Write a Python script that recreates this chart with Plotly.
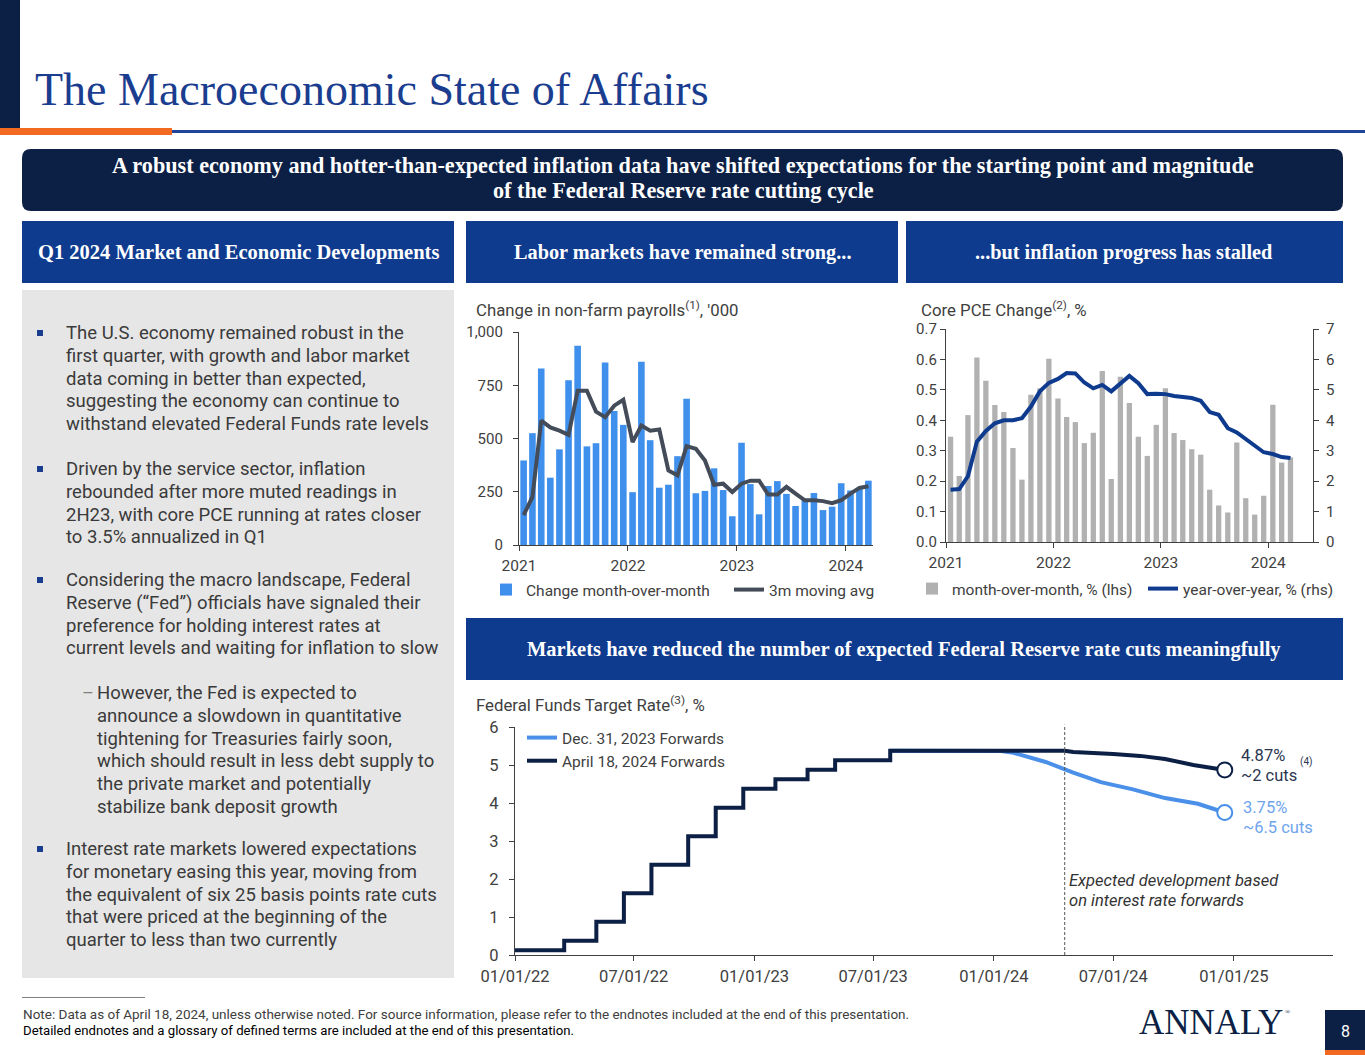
import pandas as pd
import plotly.graph_objects as go

W, H = 1365, 1055

# ---------------- DATA ----------------
months = pd.date_range("2021-01-01", periods=39, freq="MS")

payroll_mom = [397, 525, 829, 316, 449, 774, 936, 463, 478, 857, 629, 564,
               248, 860, 492, 269, 283, 417, 687, 243, 254, 360, 258, 135,
               480, 286, 144, 277, 300, 240, 183, 210, 244, 164, 180, 290,
               256, 262, 302]
payroll_3m = [140, 226, 584, 552, 537, 517, 724, 724, 626, 600, 654, 682,
              483, 561, 537, 542, 350, 327, 464, 452, 397, 283, 288, 249,
              288, 302, 302, 237, 237, 273, 241, 210, 210, 206, 196, 210,
              241, 268, 276]

pce_mom = [0.346, 0.217, 0.417, 0.606, 0.530, 0.450, 0.427, 0.309, 0.205, 0.484, 0.505, 0.602,
           0.472, 0.411, 0.394, 0.325, 0.359, 0.562, 0.207, 0.543, 0.457, 0.346, 0.283, 0.385,
           0.505, 0.358, 0.335, 0.305, 0.287, 0.172, 0.120, 0.097, 0.327, 0.144, 0.090, 0.152,
           0.451, 0.261, 0.278]
pce_yoy = [1.72, 1.74, 2.16, 3.30, 3.65, 3.90, 4.00, 4.00, 4.07, 4.45, 4.95, 5.23,
           5.36, 5.55, 5.54, 5.24, 5.05, 5.16, 4.95, 5.22, 5.46, 5.22, 4.86, 4.87,
           4.86, 4.80, 4.76, 4.73, 4.64, 4.27, 4.18, 3.74, 3.60, 3.39, 3.19, 2.95,
           2.89, 2.79, 2.76]

ff_hist_dates = ["2022-01-01", "2022-03-17", "2022-05-05", "2022-06-16", "2022-07-28",
                 "2022-09-22", "2022-11-03", "2022-12-15", "2023-02-02", "2023-03-23",
                 "2023-05-04", "2023-07-27", "2024-04-18"]
ff_hist_rates = [0.125, 0.375, 0.875, 1.625, 2.375, 3.125, 3.875, 4.375, 4.625, 4.875,
                 5.125, 5.375, 5.375]

fwd_dec_dates = ["2023-07-27", "2024-01-12", "2024-01-31", "2024-03-20", "2024-05-01",
                 "2024-06-12", "2024-07-31", "2024-09-18", "2024-11-07", "2024-12-18"]
fwd_dec_rates = [5.375, 5.37, 5.32, 5.08, 4.80, 4.55, 4.36, 4.13, 3.98, 3.75]

fwd_apr_dates = ["2024-04-18", "2024-05-01", "2024-07-01", "2024-08-11", "2024-09-18",
                 "2024-10-31", "2024-12-18"]
fwd_apr_rates = [5.375, 5.34, 5.29, 5.24, 5.16, 5.00, 4.87]

ff_ticks = ["2022-01-01", "2022-07-01", "2023-01-01", "2023-07-01", "2024-01-01",
            "2024-07-01", "2025-01-01"]

# ---------------- COLORS / FONTS ----------------
NAVY = "#0c1f45"
BLUE_HDR = "#0f3b8f"
TITLE_BLUE = "#1b3d8f"
ORANGE = "#f26a21"
PAY_BLUE = "#3f8fec"
PAY_LINE = "#434c58"
PCE_GRAY = "#b1b1b1"
PCE_LINE = "#0f3b8f"
FF_LIGHT = "#4a90e8"
FF_DARK = "#0c1f45"
TXT = "#404040"
SANS = "Roboto"
SERIF = "Liberation Serif"
DAY_MS = 86400000


def X(p):
    return p / W


def Y(p):
    return 1 - p / H


fig = go.Figure()

# ---------------- TRACES ----------------
fig.add_trace(go.Bar(x=months, y=payroll_mom, xperiod="M1", xperiodalignment="middle",
                     marker=dict(color=PAY_BLUE, line_width=0), name="Change month-over-month",
                     xaxis="x", yaxis="y", legend="legend"))
fig.add_trace(go.Scatter(x=months, y=payroll_3m, xperiod="M1", xperiodalignment="middle",
                         mode="lines", line=dict(color=PAY_LINE, width=4), name="3m moving avg",
                         xaxis="x", yaxis="y", legend="legend"))

fig.add_trace(go.Bar(x=months, y=pce_mom, xperiod="M1", xperiodalignment="middle",
                     width=18 * DAY_MS,
                     marker=dict(color=PCE_GRAY, line_width=0), name="month-over-month, % (lhs)",
                     xaxis="x2", yaxis="y2", legend="legend2"))
fig.add_trace(go.Scatter(x=months, y=pce_yoy, xperiod="M1", xperiodalignment="middle",
                         mode="lines", line=dict(color=PCE_LINE, width=4), name="year-over-year, % (rhs)",
                         xaxis="x2", yaxis="y3", legend="legend2"))

fig.add_trace(go.Scatter(x=fwd_dec_dates, y=fwd_dec_rates, mode="lines",
                         line=dict(color=FF_LIGHT, width=4), name="Dec. 31, 2023 Forwards",
                         xaxis="x3", yaxis="y4", legend="legend3"))
fig.add_trace(go.Scatter(x=ff_hist_dates, y=ff_hist_rates, mode="lines", line_shape="hv",
                         line=dict(color=FF_DARK, width=4), showlegend=False,
                         xaxis="x3", yaxis="y4"))
fig.add_trace(go.Scatter(x=fwd_apr_dates, y=fwd_apr_rates, mode="lines",
                         line=dict(color=FF_DARK, width=4), name="April 18, 2024 Forwards",
                         xaxis="x3", yaxis="y4", legend="legend3"))
fig.add_trace(go.Scatter(x=[fwd_dec_dates[-1]], y=[fwd_dec_rates[-1]], mode="markers",
                         marker=dict(symbol="circle", size=15, color="white",
                                     line=dict(color=FF_LIGHT, width=2)),
                         showlegend=False, xaxis="x3", yaxis="y4"))
fig.add_trace(go.Scatter(x=[fwd_apr_dates[-1]], y=[fwd_apr_rates[-1]], mode="markers",
                         marker=dict(symbol="circle", size=15, color="white",
                                     line=dict(color=FF_DARK, width=2)),
                         showlegend=False, xaxis="x3", yaxis="y4"))

# ---------------- AXES ----------------
def ax(size, standoff):
    return dict(showline=True, linecolor="#404040", linewidth=1.2, ticks="outside",
                ticklen=5, tickcolor="#404040", showgrid=False, zeroline=False,
                automargin=False, ticklabelstandoff=standoff,
                tickfont=dict(family=SANS, size=size, color=TXT))


years = ["2021-01-01", "2022-01-01", "2023-01-01", "2024-01-01"]
fig.update_layout(
    xaxis=dict(domain=[X(519), X(873)], anchor="y", range=["2021-01-01", "2024-04-01"],
               tickvals=years, tickformat="%Y", **ax(15.5, 1)),
    yaxis=dict(domain=[Y(545), Y(332)], anchor="x", range=[0, 1000],
               tickvals=[0, 250, 500, 750, 1000], tickformat=",", **ax(15, 7)),
    xaxis2=dict(domain=[X(946), X(1313)], anchor="y2", range=["2021-01-01", "2024-06-01"],
                tickvals=years, tickformat="%Y", **ax(15.5, 1)),
    yaxis2=dict(domain=[Y(542), Y(329)], anchor="x2", range=[0, 0.7], dtick=0.1,
                tickformat=".1f", **ax(15, 0)),
    yaxis3=dict(overlaying="y2", anchor="x2", side="right", range=[0, 7], dtick=1, **ax(15, 4)),
    xaxis3=dict(domain=[X(515), X(1333)], anchor="y4", range=["2022-01-01", "2025-06-01"],
                tickvals=ff_ticks, tickformat="%m/%d/%y", **ax(16.5, 1)),
    yaxis4=dict(domain=[Y(955), Y(727)], anchor="x3", range=[0, 6], dtick=1, **ax(16.5, 7)),
)

legfont = dict(family=SANS, size=15.5, color=TXT)
fig.update_layout(
    legend=dict(orientation="h", x=X(486), y=Y(590), xanchor="left", yanchor="middle",
                font=legfont, itemwidth=30, entrywidth=198, bgcolor="rgba(0,0,0,0)"),
    legend2=dict(orientation="h", x=X(912), y=Y(589), xanchor="left", yanchor="middle",
                 font=legfont, itemwidth=30, entrywidth=186, bgcolor="rgba(0,0,0,0)"),
    legend3=dict(orientation="v", x=X(522), y=Y(721), xanchor="left", yanchor="top",
                 font=legfont, itemwidth=30, bgcolor="rgba(0,0,0,0)", tracegroupgap=0),
)

# ---------------- SHAPES ----------------
shapes = []


def rect(x0, y0, x1, y1, color, layer="below"):
    shapes.append(dict(type="rect", xref="paper", yref="paper", x0=X(x0), x1=X(x1),
                       y0=Y(y1), y1=Y(y0), fillcolor=color, line_width=0, layer=layer))


def rrect(x0, y0, x1, y1, r, color):
    pts = lambda a, b: f"{X(a)},{Y(b)}"
    path = (f"M {pts(x0 + r, y0)} L {pts(x1 - r, y0)} Q {pts(x1, y0)} {pts(x1, y0 + r)} "
            f"L {pts(x1, y1 - r)} Q {pts(x1, y1)} {pts(x1 - r, y1)} "
            f"L {pts(x0 + r, y1)} Q {pts(x0, y1)} {pts(x0, y1 - r)} "
            f"L {pts(x0, y0 + r)} Q {pts(x0, y0)} {pts(x0 + r, y0)} Z")
    shapes.append(dict(type="path", xref="paper", yref="paper", path=path,
                       fillcolor=color, line_width=0, layer="below"))


rect(0, 0, 20, 129, NAVY)
rect(0, 128, 172, 135, ORANGE)
rect(172, 130, 1365, 133, "#1f449a")
rrect(22, 149, 1343, 211, 9, NAVY)
rect(22, 221, 454, 283, BLUE_HDR)
rect(466, 221, 898, 283, BLUE_HDR)
rect(906, 221, 1343, 283, BLUE_HDR)
rect(22, 290, 454, 978, "#e6e6e6")
rect(466, 618, 1343, 680, BLUE_HDR)
rect(22, 997, 145, 998, "#7f7f7f")
rect(1325, 1010, 1365, 1050, NAVY)
rect(1325, 1050, 1365, 1055, ORANGE)

# bullet squares
for by in [333, 469, 580, 849]:
    rect(37, by - 3, 43, by + 3, TITLE_BLUE, layer="above")

# dashed separator in FF chart
shapes.append(dict(type="line", xref="x3", yref="y4 domain", x0="2024-04-18", x1="2024-04-18",
                   y0=0, y1=1.01, line=dict(color="#555555", width=1, dash="3px,2px")))

fig.update_layout(shapes=shapes)

# ---------------- ANNOTATIONS ----------------
ann = []


def text(x, y, s, size, color=TXT, family=SANS, xanchor="left", yanchor="middle"):
    ann.append(dict(x=X(x), y=Y(y), xref="paper", yref="paper", text=s, showarrow=False,
                    xanchor=xanchor, yanchor=yanchor,
                    align=xanchor if xanchor != "center" else "center",
                    font=dict(size=size, color=color, family=family)))


text(33, 90, "The Macroeconomic State of Affairs", 46, TITLE_BLUE, SERIF)
text(683, 166, "<b>A robust economy and hotter-than-expected inflation data have shifted expectations for the starting point and magnitude</b>",
     22.2, "white", SERIF, xanchor="center")
text(683, 191, "<b>of the Federal Reserve rate cutting cycle</b>", 22.2, "white", SERIF, xanchor="center")
text(238, 252, "<b>Q1 2024 Market and Economic Developments</b>", 20.5, "white", SERIF, xanchor="center")
text(682, 252, "<b>Labor markets have remained strong...</b>", 20.3, "white", SERIF, xanchor="center")
text(1124, 252, "<b>...but inflation progress has stalled</b>", 20.3, "white", SERIF, xanchor="center")
text(904, 649, "<b>Markets have reduced the number of expected Federal Reserve rate cuts meaningfully</b>",
     20.5, "white", SERIF, xanchor="center")

LS = 22.8
blocks = [
    (64, 333, ["The U.S. economy remained robust in the", "first quarter, with growth and labor market",
               "data coming in better than expected,", "suggesting the economy can continue to",
               "withstand elevated Federal Funds rate levels"]),
    (64, 469, ["Driven by the service sector, inflation", "rebounded after more muted readings in",
               "2H23, with core PCE running at rates closer", "to 3.5% annualized in Q1"]),
    (64, 580, ["Considering the macro landscape, Federal", "Reserve (“Fed”) officials have signaled their",
               "preference for holding interest rates at", "current levels and waiting for inflation to slow"]),
    (95, 693, ["However, the Fed is expected to", "announce a slowdown in quantitative",
               "tightening for Treasuries fairly soon,", "which should result in less debt supply to",
               "the private market and potentially", "stabilize bank deposit growth"]),
    (64, 849, ["Interest rate markets lowered expectations", "for monetary easing this year, moving from",
               "the equivalent of six 25 basis points rate cuts", "that were priced at the beginning of the",
               "quarter to less than two currently"]),
]
for bx, by, lines in blocks:
    for i, ln in enumerate(lines):
        text(bx, by + i * LS, ln, 18.5, "#3a3a3a")
text(80, 692, "–", 18, "#7f7f7f")

text(474, 309, "Change in non-farm payrolls<sup>(1)</sup>, '000", 16.8)
text(919, 309, "Core PCE Change<sup>(2)</sup>, %", 16.8)
text(474, 704, "Federal Funds Target Rate<sup>(3)</sup>, %", 16.8)

text(1239, 755, "4.87%", 16.5, "#2b3650")
text(1239, 775, "~2 cuts", 16.5, "#2b3650")
text(1298, 762, "(4)", 10, "#2b3650")
text(1241, 807, "3.75%", 16.5, "#6ea4ee")
text(1241, 827, "~6.5 cuts", 16.5, "#6ea4ee")
text(1067, 880, "<i>Expected development based</i>", 16.5, "#333333")
text(1067, 900, "<i>on interest rate forwards</i>", 16.5, "#333333")

text(21, 1014, "Note: Data as of April 18, 2024, unless otherwise noted. For source information, please refer to the endnotes included at the end of this presentation.",
     13.5, "#404040")
text(21, 1030, "Detailed endnotes and a glossary of defined terms are included at the end of this presentation.",
     13.2, "#000000")
text(1137, 1022, "ANNALY", 35, NAVY, SERIF)
text(1283, 1012, "®", 7, NAVY, SERIF)
text(1345, 1031, "8", 16, "white", xanchor="center")

fig.update_layout(annotations=ann)

fig.update_layout(width=W, height=H,
                  margin=dict(l=0, r=0, t=0, b=0, pad=0, autoexpand=False),
                  paper_bgcolor="white", plot_bgcolor="rgba(0,0,0,0)",
                  bargap=0.25, font=dict(family=SANS, color=TXT))

fig.write_html("out.html", config={"displayModeBar": False},
               post_script="document.body.style.margin='0';document.body.style.padding='0';")
